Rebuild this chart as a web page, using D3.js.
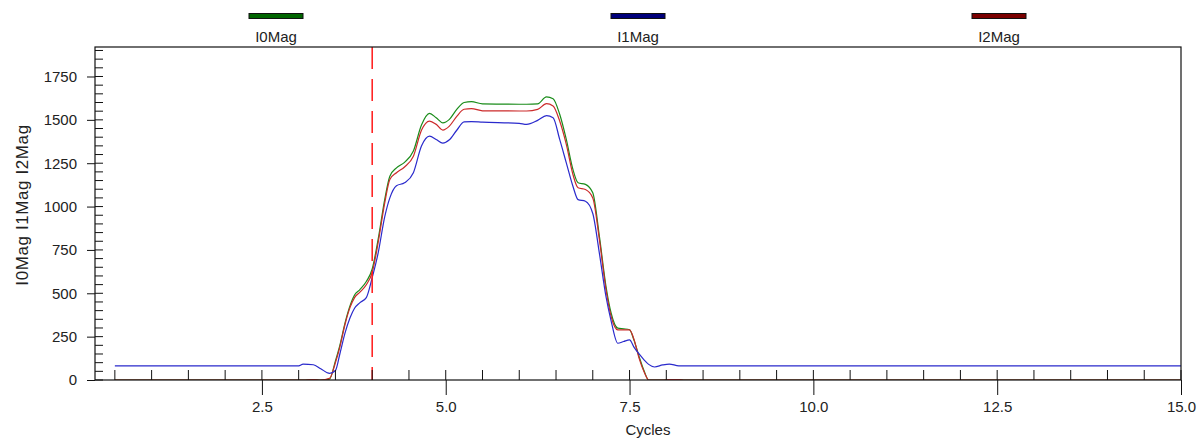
<!DOCTYPE html>
<html>
<head>
<meta charset="utf-8">
<script src="https://cdn.jsdelivr.net/npm/d3@7"></script>
<style>
  body { margin: 0; background: #fff; }
  text { font-family: "Liberation Sans", Arial, sans-serif; fill: #222; }
</style>
</head>
<body>
<div id="chart"></div>
<script>
// Data
var cycles = [0.5, 3.0, 3.06, 3.2, 3.3, 3.42, 3.5, 3.56, 3.63, 3.7, 3.76, 3.83, 3.92, 4.0, 4.08, 4.17, 4.24, 4.33, 4.44,
  4.56, 4.67, 4.78, 4.87, 4.96, 5.05, 5.15, 5.25, 5.35, 5.5, 6.0, 6.1, 6.25, 6.37, 6.46, 6.55, 6.64, 6.73, 6.8, 6.9,
  7.0, 7.09, 7.18, 7.25, 7.34, 7.42, 7.5, 7.56, 7.63, 7.7, 7.76, 7.84, 7.95, 8.04, 8.17, 8.25, 15.0];
var i0Mag = [0, 0, 0, 3, 0, 5, 110, 200, 328, 430, 490, 520, 568, 640, 809, 1040, 1175, 1223, 1255,
  1320, 1470, 1537, 1512, 1483, 1503, 1560, 1600, 1605, 1592, 1590, 1590, 1592, 1632, 1622, 1532, 1387, 1214, 1137, 1128,
  1079, 828, 539, 385, 299, 295, 290, 230, 135, 50, 0, 0, 0, 3, 3, 0, 0];
var i1Mag = [82, 82, 92, 88, 65, 38, 55, 150, 270, 360, 414, 445, 475, 590, 730, 940, 1050, 1120, 1137,
  1195, 1349, 1406, 1387, 1366, 1385, 1440, 1488, 1490, 1487, 1480, 1474, 1497, 1524, 1512, 1387, 1252, 1117, 1040, 1031,
  960, 730, 480, 340, 212, 222, 231, 190, 150, 115, 90, 75, 87, 92, 82, 82, 82];
var i2Mag = [0, 0, 0, 3, 0, 10, 100, 190, 320, 420, 475, 505, 549, 620, 790, 1020, 1156, 1195, 1228,
  1290, 1440, 1493, 1474, 1441, 1464, 1520, 1561, 1565, 1552, 1551, 1551, 1560, 1593, 1580, 1493, 1358, 1185, 1108, 1098,
  1050, 809, 520, 366, 289, 289, 289, 235, 125, 45, 0, 0, 0, 3, 3, 0, 0];
var seriesNames = ["I0Mag", "I1Mag", "I2Mag"];
var lineColors = ["#1a8c1a", "#2a2acc", "#cc2a2a"];
var legendColors = ["#006400", "#00007a", "#7a0000"];
var xTicks = [2.5, 5.0, 7.5, 10.0, 12.5, 15.0];
var yTicks = [0, 250, 500, 750, 1000, 1250, 1500, 1750];
var marker = 4.0;

var width = 1203, height = 438;
var margin = { top: 47, right: 22, bottom: 58, left: 95 };
var w = width - margin.left - margin.right,
    h = height - margin.top - margin.bottom;

var svg = d3.select("#chart").append("svg")
    .attr("width", width)
    .attr("height", height);

var g = svg.append("g")
    .attr("transform", "translate(" + margin.left + "," + margin.top + ")");

var x = d3.scaleLinear().domain([0.23, 15]).range([0, w]);
var y = d3.scaleLinear().domain([0, 1920]).range([h, 0]);

// clip so lines stay inside the frame
g.append("clipPath").attr("id", "clip")
  .append("rect").attr("width", w).attr("height", h);

// series lines
var allSeries = [i0Mag, i1Mag, i2Mag];
var drawOrder = [0, 2, 1];
var line = d3.line()
    .x(function (d) { return x(d[0]); })
    .y(function (d) { return y(d[1]); })
    .curve(d3.curveMonotoneX);

drawOrder.forEach(function (k) {
  var pts = cycles.map(function (c, i) { return [c, allSeries[k][i]]; });
  g.append("path")
    .datum(pts)
    .attr("clip-path", "url(#clip)")
    .attr("fill", "none")
    .attr("stroke", lineColors[k])
    .attr("stroke-width", 1.2)
    .attr("d", line);
});

// red dashed marker line
g.append("line")
  .attr("x1", x(marker)).attr("x2", x(marker))
  .attr("y1", 0).attr("y2", h)
  .attr("stroke", "#ff1a1a")
  .attr("stroke-width", 1.5)
  .attr("stroke-dasharray", "22,10");

// frame
g.append("rect")
  .attr("width", w).attr("height", h)
  .attr("fill", "none")
  .attr("stroke", "#111")
  .attr("stroke-width", 1.2);

// x axis: minor ticks inside, majors also outside
var xMinor = d3.range(0.5, 15.01, 0.5);
g.selectAll(".xminor").data(xMinor).enter().append("line")
  .attr("x1", function (d) { return x(d); }).attr("x2", function (d) { return x(d); })
  .attr("y1", h).attr("y2", h - 10)
  .attr("stroke", "#111");
var xAxis = d3.axisBottom(x).tickValues(xTicks).tickFormat(d3.format(".1f")).tickSize(15).tickPadding(6);
var gx = g.append("g").attr("transform", "translate(0," + h + ")").call(xAxis);
gx.select(".domain").remove();
gx.selectAll(".tick line").attr("stroke", "#111");
gx.selectAll("text").style("font-size", "15px").attr("fill", "#222");

// y axis
var yMinor = d3.range(0, 1901, 50);
g.selectAll(".yminor").data(yMinor).enter().append("line")
  .attr("x1", 0).attr("x2", 8)
  .attr("y1", function (d) { return y(d); }).attr("y2", function (d) { return y(d); })
  .attr("stroke", "#111");
var yAxis = d3.axisLeft(y).tickValues(yTicks).tickFormat(d3.format("d")).tickSize(8).tickPadding(10);
var gy = g.append("g").call(yAxis);
gy.select(".domain").remove();
gy.selectAll(".tick line").attr("stroke", "#111");
gy.selectAll("text").style("font-size", "15px").attr("fill", "#222");

// axis titles
svg.append("text")
  .attr("x", margin.left + x(7.75)).attr("y", 435)
  .attr("text-anchor", "middle")
  .style("font-size", "15px")
  .text("Cycles");

svg.append("text")
  .attr("transform", "translate(28,205) rotate(-90)")
  .attr("text-anchor", "middle")
  .style("font-size", "17px")
  .style("letter-spacing", "0.6px")
  .text(seriesNames.join(" "));

// legend
var legendX = [276, 638, 999];
seriesNames.forEach(function (name, i) {
  svg.append("rect")
    .attr("x", legendX[i] - 27).attr("y", 13.5)
    .attr("width", 54).attr("height", 5)
    .attr("fill", legendColors[i])
    .attr("stroke", "#111")
    .attr("stroke-width", 1);
  svg.append("text")
    .attr("x", legendX[i]).attr("y", 42)
    .attr("text-anchor", "middle")
    .style("font-size", "15px")
    .text(name);
});
</script>
</body>
</html>
